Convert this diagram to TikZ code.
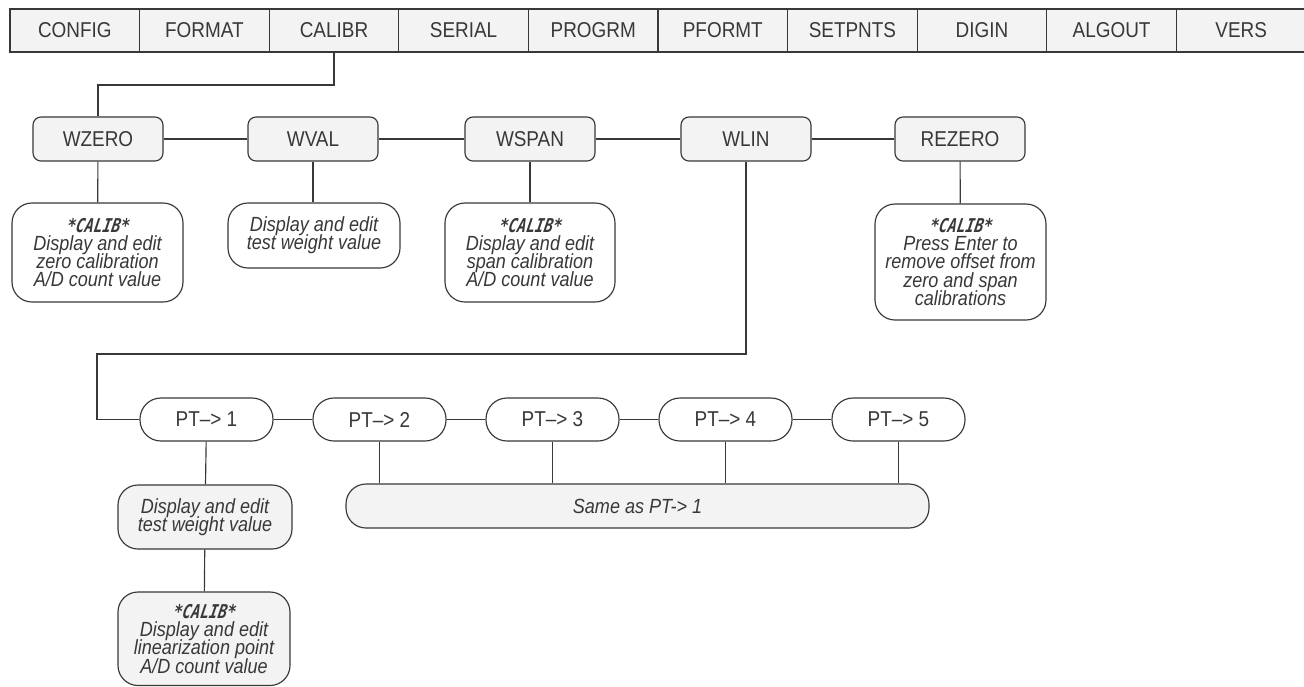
\documentclass[tikz,border=0pt]{standalone}
\usepackage{fontspec}
\setmainfont{Liberation Sans}[FakeStretch=0.88]
\newfontfamily\lcdfont{DejaVu Sans Mono}[FakeSlant=0.18,FakeStretch=0.78]
\definecolor{ink}{HTML}{383838}
\definecolor{boxgray}{HTML}{F3F3F3}
\newcommand\descfont{\fontsize{20.5}{18.3}\selectfont\itshape\lineskiplimit=-30pt\relax}
\newcommand\lcd{{\lcdfont\bfseries\fontsize{19}{18.3}\selectfont *CALIB*}}
\begin{document}
\begin{tikzpicture}[x=1pt,y=-1pt,line width=1.15pt,
  menucell/.style={draw=ink,fill=boxgray,minimum width=129.6pt,minimum height=43pt,inner sep=0pt,text=ink,font=\fontsize{21.5}{24}\selectfont},
  lvl/.style={draw=ink,fill=boxgray,rounded corners=8pt,minimum width=130pt,minimum height=44pt,inner sep=0pt,text=ink,font=\fontsize{21.5}{24}\selectfont},
  desc/.style={draw=ink,fill=white,rounded corners=20pt,inner sep=0pt,align=center,text=ink,font=\descfont},
  descg/.style={desc,fill=boxgray},
  ptbox/.style={draw=ink,fill=white,rounded corners=21pt,minimum width=133pt,minimum height=43pt,inner sep=0pt,text=ink,font=\fontsize{21.5}{24}\selectfont},
  conn/.style={draw=ink,line width=1.15pt}]
\useasboundingbox (0,0) rectangle (1304,686);
\fill[white] (0,0) rectangle (1304,686);
% top menu
\foreach \i/\t in {1/CONFIG,2/FORMAT,3/CALIBR,4/SERIAL,5/PROGRM,6/PFORMT,7/SETPNTS,8/DIGIN,9/ALGOUT,10/VERS}
  \node[menucell] (c\i) at ({10+129.6*(\i-0.5)},30.5) {\t};
% level 1
\node[lvl] (wz) at (98,139) {WZERO};
\node[lvl] (wv) at (313,139) {WVAL};
\node[lvl] (ws) at (530,139) {WSPAN};
\node[lvl] (wl) at (746,139) {WLIN};
\node[lvl] (rz) at (960,139) {REZERO};
% descriptions level 1
\node[desc,minimum width=171pt,minimum height=99pt] (dz) at (97.5,252.5) {\lcd\\Display and edit\\zero calibration\\A/D count value};
\node[desc,minimum width=172pt,minimum height=65pt] (dv) at (314,235.5) {Display and edit\\test weight value};
\node[desc,minimum width=170pt,minimum height=99pt] (ds) at (530,252.5) {\lcd\\Display and edit\\span calibration\\A/D count value};
\node[desc,minimum width=171pt,minimum height=116pt] (dr) at (960.5,262) {\lcd\\Press Enter to\\remove offset from\\zero and span\\calibrations};
% PT row
\node[ptbox] (p1) at (206.5,419.5) {PT--> 1};
\node[ptbox] (p2) at (379.5,419.5) {PT--> 2};
\node[ptbox] (p3) at (552.5,419.5) {PT--> 3};
\node[ptbox] (p4) at (725.5,419.5) {PT--> 4};
\node[ptbox] (p5) at (898.5,419.5) {PT--> 5};
\node[descg,minimum width=583pt,minimum height=44pt] (same) at (637.5,506) {Same as PT-> 1};
\node[descg,minimum width=174pt,minimum height=64pt] (pd) at (205,517) {Display and edit\\test weight value};
\node[descg,minimum width=172pt,minimum height=93.5pt] (pc) at (204,638.75) {\lcd\\Display and edit\\linearization point\\A/D count value};
% connectors
\draw[conn] (c3.south) -- (334,85) -| (wz.north);
\draw[conn] (wz) -- (wv);
\draw[conn] (wv) -- (ws);
\draw[conn] (ws) -- (wl);
\draw[conn] (wl) -- (rz);
\draw[conn] (wz) -- (dz);
\draw[conn] (wv.south) -- (wv.south |- dv.north);
\draw[conn] (ws) -- (ds);
\draw[conn] (rz) -- (dr);
\coordinate (turn) at (97,354);
\draw[conn] (wl.south) |- (turn) |- (p1.west);
\draw[conn] (p1) -- (p2);
\draw[conn] (p2) -- (p3);
\draw[conn] (p3) -- (p4);
\draw[conn] (p4) -- (p5);
\draw[conn] (p1) -- (pd);
\draw[conn] (pd) -- (pc);
\foreach \p in {p2,p3,p4,p5} \draw[conn] (\p.south) -- (\p.south |- same.north);
\end{tikzpicture}
\end{document}
